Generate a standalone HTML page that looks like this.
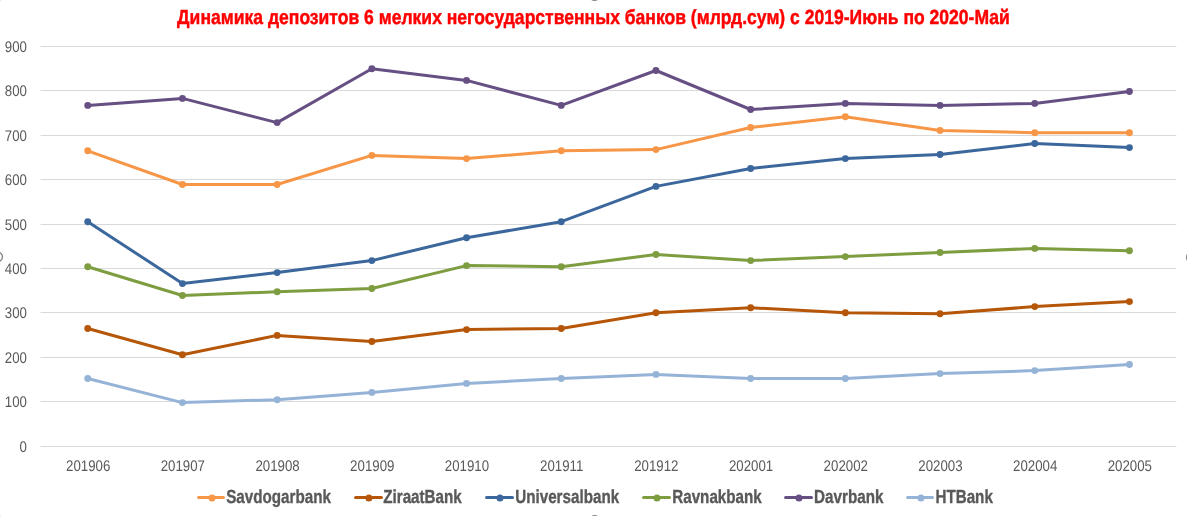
<!DOCTYPE html>
<html lang="ru"><head><meta charset="utf-8"><title>Chart</title>
<style>html,body{margin:0;padding:0;background:#fff;overflow:hidden}svg{display:block;will-change:transform}text{font-family:"Liberation Sans",sans-serif;text-rendering:geometricPrecision}</style></head><body>
<svg width="1187" height="516" viewBox="0 0 1187 516">
<rect width="1187" height="516" fill="#fff"/>
<circle cx="594.55" cy="-4.4" r="4.85" fill="#fff" stroke="#858585" stroke-width="1.3"/>
<circle cx="594.6" cy="520.4" r="4.85" fill="#fff" stroke="#858585" stroke-width="1.3"/>
<circle cx="-2.4" cy="256.9" r="4.85" fill="#fff" stroke="#858585" stroke-width="1.3"/>
<circle cx="1191.4" cy="257.4" r="4.85" fill="#fff" stroke="#858585" stroke-width="1.3"/>
<circle cx="-2.4" cy="-4.4" r="4.85" fill="#fff" stroke="#858585" stroke-width="1.3"/>
<circle cx="-2.4" cy="520.4" r="4.85" fill="#fff" stroke="#858585" stroke-width="1.3"/>
<g fill="#D9D9D9">
<rect x="40.6" y="46" width="1135.8" height="1"/>
<rect x="40.6" y="90" width="1135.8" height="1"/>
<rect x="40.6" y="135" width="1135.8" height="1"/>
<rect x="40.6" y="179" width="1135.8" height="1"/>
<rect x="40.6" y="224" width="1135.8" height="1"/>
<rect x="40.6" y="268" width="1135.8" height="1"/>
<rect x="40.6" y="312" width="1135.8" height="1"/>
<rect x="40.6" y="357" width="1135.8" height="1"/>
<rect x="40.6" y="401" width="1135.8" height="1"/>
<rect x="40.6" y="446" width="1135.8" height="1"/>
</g>
<g fill="#595959" font-size="15.4" text-anchor="end">
<text transform="translate(26.9 51.85) scale(0.862 1)">900</text>
<text transform="translate(26.9 96.28) scale(0.862 1)">800</text>
<text transform="translate(26.9 140.71) scale(0.862 1)">700</text>
<text transform="translate(26.9 185.14) scale(0.862 1)">600</text>
<text transform="translate(26.9 229.57) scale(0.862 1)">500</text>
<text transform="translate(26.9 274.00) scale(0.862 1)">400</text>
<text transform="translate(26.9 318.43) scale(0.862 1)">300</text>
<text transform="translate(26.9 362.86) scale(0.862 1)">200</text>
<text transform="translate(26.9 407.29) scale(0.862 1)">100</text>
<text transform="translate(26.9 451.72) scale(0.862 1)">0</text>
</g>
<g fill="#595959" font-size="15.4" text-anchor="middle">
<text transform="translate(88.15 470.9) scale(0.862 1)">201906</text>
<text transform="translate(182.85 470.9) scale(0.862 1)">201907</text>
<text transform="translate(277.55 470.9) scale(0.862 1)">201908</text>
<text transform="translate(372.25 470.9) scale(0.862 1)">201909</text>
<text transform="translate(466.95 470.9) scale(0.862 1)">201910</text>
<text transform="translate(561.65 470.9) scale(0.862 1)">201911</text>
<text transform="translate(656.35 470.9) scale(0.862 1)">201912</text>
<text transform="translate(751.05 470.9) scale(0.862 1)">202001</text>
<text transform="translate(845.75 470.9) scale(0.862 1)">202002</text>
<text transform="translate(940.45 470.9) scale(0.862 1)">202003</text>
<text transform="translate(1035.15 470.9) scale(0.862 1)">202004</text>
<text transform="translate(1129.85 470.9) scale(0.862 1)">202005</text>
</g>
<polyline points="87.75,150.80 182.45,184.50 277.15,184.50 371.85,155.40 466.55,158.60 561.25,150.80 655.95,149.60 750.65,127.50 845.35,116.70 940.05,130.40 1034.75,132.70 1129.45,132.70" fill="none" stroke="#F79646" stroke-width="3.0" stroke-linecap="round" stroke-linejoin="round"/>
<g fill="#F79646"><circle cx="87.75" cy="150.80" r="3.45"/><circle cx="182.45" cy="184.50" r="3.45"/><circle cx="277.15" cy="184.50" r="3.45"/><circle cx="371.85" cy="155.40" r="3.45"/><circle cx="466.55" cy="158.60" r="3.45"/><circle cx="561.25" cy="150.80" r="3.45"/><circle cx="655.95" cy="149.60" r="3.45"/><circle cx="750.65" cy="127.50" r="3.45"/><circle cx="845.35" cy="116.70" r="3.45"/><circle cx="940.05" cy="130.40" r="3.45"/><circle cx="1034.75" cy="132.70" r="3.45"/><circle cx="1129.45" cy="132.70" r="3.45"/></g>
<polyline points="87.75,328.50 182.45,354.70 277.15,335.40 371.85,341.50 466.55,329.60 561.25,328.50 655.95,312.80 750.65,307.70 845.35,312.70 940.05,313.80 1034.75,306.60 1129.45,301.60" fill="none" stroke="#B65608" stroke-width="3.0" stroke-linecap="round" stroke-linejoin="round"/>
<g fill="#B65608"><circle cx="87.75" cy="328.50" r="3.45"/><circle cx="182.45" cy="354.70" r="3.45"/><circle cx="277.15" cy="335.40" r="3.45"/><circle cx="371.85" cy="341.50" r="3.45"/><circle cx="466.55" cy="329.60" r="3.45"/><circle cx="561.25" cy="328.50" r="3.45"/><circle cx="655.95" cy="312.80" r="3.45"/><circle cx="750.65" cy="307.70" r="3.45"/><circle cx="845.35" cy="312.70" r="3.45"/><circle cx="940.05" cy="313.80" r="3.45"/><circle cx="1034.75" cy="306.60" r="3.45"/><circle cx="1129.45" cy="301.60" r="3.45"/></g>
<polyline points="87.75,221.70 182.45,283.60 277.15,272.60 371.85,260.60 466.55,237.70 561.25,221.70 655.95,186.40 750.65,168.50 845.35,158.60 940.05,154.50 1034.75,143.50 1129.45,147.60" fill="none" stroke="#3B679C" stroke-width="3.0" stroke-linecap="round" stroke-linejoin="round"/>
<g fill="#3B679C"><circle cx="87.75" cy="221.70" r="3.45"/><circle cx="182.45" cy="283.60" r="3.45"/><circle cx="277.15" cy="272.60" r="3.45"/><circle cx="371.85" cy="260.60" r="3.45"/><circle cx="466.55" cy="237.70" r="3.45"/><circle cx="561.25" cy="221.70" r="3.45"/><circle cx="655.95" cy="186.40" r="3.45"/><circle cx="750.65" cy="168.50" r="3.45"/><circle cx="845.35" cy="158.60" r="3.45"/><circle cx="940.05" cy="154.50" r="3.45"/><circle cx="1034.75" cy="143.50" r="3.45"/><circle cx="1129.45" cy="147.60" r="3.45"/></g>
<polyline points="87.75,266.70 182.45,295.50 277.15,291.70 371.85,288.50 466.55,265.60 561.25,266.70 655.95,254.50 750.65,260.60 845.35,256.60 940.05,252.50 1034.75,248.40 1129.45,250.80" fill="none" stroke="#7E9C40" stroke-width="3.0" stroke-linecap="round" stroke-linejoin="round"/>
<g fill="#7E9C40"><circle cx="87.75" cy="266.70" r="3.45"/><circle cx="182.45" cy="295.50" r="3.45"/><circle cx="277.15" cy="291.70" r="3.45"/><circle cx="371.85" cy="288.50" r="3.45"/><circle cx="466.55" cy="265.60" r="3.45"/><circle cx="561.25" cy="266.70" r="3.45"/><circle cx="655.95" cy="254.50" r="3.45"/><circle cx="750.65" cy="260.60" r="3.45"/><circle cx="845.35" cy="256.60" r="3.45"/><circle cx="940.05" cy="252.50" r="3.45"/><circle cx="1034.75" cy="248.40" r="3.45"/><circle cx="1129.45" cy="250.80" r="3.45"/></g>
<polyline points="87.75,105.40 182.45,98.40 277.15,122.60 371.85,68.80 466.55,80.40 561.25,105.40 655.95,70.50 750.65,109.50 845.35,103.40 940.05,105.40 1034.75,103.40 1129.45,91.50" fill="none" stroke="#664F83" stroke-width="3.0" stroke-linecap="round" stroke-linejoin="round"/>
<g fill="#664F83"><circle cx="87.75" cy="105.40" r="3.45"/><circle cx="182.45" cy="98.40" r="3.45"/><circle cx="277.15" cy="122.60" r="3.45"/><circle cx="371.85" cy="68.80" r="3.45"/><circle cx="466.55" cy="80.40" r="3.45"/><circle cx="561.25" cy="105.40" r="3.45"/><circle cx="655.95" cy="70.50" r="3.45"/><circle cx="750.65" cy="109.50" r="3.45"/><circle cx="845.35" cy="103.40" r="3.45"/><circle cx="940.05" cy="105.40" r="3.45"/><circle cx="1034.75" cy="103.40" r="3.45"/><circle cx="1129.45" cy="91.50" r="3.45"/></g>
<polyline points="87.75,378.50 182.45,402.60 277.15,399.70 371.85,392.40 466.55,383.40 561.25,378.50 655.95,374.40 750.65,378.50 845.35,378.50 940.05,373.60 1034.75,370.60 1129.45,364.50" fill="none" stroke="#95B3D7" stroke-width="3.0" stroke-linecap="round" stroke-linejoin="round"/>
<g fill="#95B3D7"><circle cx="87.75" cy="378.50" r="3.45"/><circle cx="182.45" cy="402.60" r="3.45"/><circle cx="277.15" cy="399.70" r="3.45"/><circle cx="371.85" cy="392.40" r="3.45"/><circle cx="466.55" cy="383.40" r="3.45"/><circle cx="561.25" cy="378.50" r="3.45"/><circle cx="655.95" cy="374.40" r="3.45"/><circle cx="750.65" cy="378.50" r="3.45"/><circle cx="845.35" cy="378.50" r="3.45"/><circle cx="940.05" cy="373.60" r="3.45"/><circle cx="1034.75" cy="370.60" r="3.45"/><circle cx="1129.45" cy="364.50" r="3.45"/></g>
<text transform="translate(593.45 23.55) scale(0.8601 1)" text-anchor="middle" font-size="20.4" font-weight="bold" fill="#FF0000" stroke="#FF0000" stroke-width="0.45">Динамика депозитов 6 мелких негосударственных банков (млрд.сум) с 2019-Июнь по 2020-Май</text>
<line x1="198.54" y1="497.5" x2="223.45" y2="497.5" stroke="#F79646" stroke-width="3.0" stroke-linecap="round"/>
<circle cx="211.96" cy="497.9" r="3.5" fill="#F79646"/>
<text transform="translate(226.20 502.75) scale(0.805 1)" font-size="18.9" font-weight="bold" fill="#595959" stroke="#595959" stroke-width="0.35">Savdogarbank</text>
<line x1="355.57" y1="497.5" x2="381.45" y2="497.5" stroke="#B65608" stroke-width="3.0" stroke-linecap="round"/>
<circle cx="368.90" cy="497.9" r="3.5" fill="#B65608"/>
<text transform="translate(383.20 502.75) scale(0.805 1)" font-size="18.9" font-weight="bold" fill="#595959" stroke="#595959" stroke-width="0.35">ZiraatBank</text>
<line x1="486.54" y1="497.5" x2="512.53" y2="497.5" stroke="#3B679C" stroke-width="3.0" stroke-linecap="round"/>
<circle cx="499.96" cy="497.9" r="3.5" fill="#3B679C"/>
<text transform="translate(515.20 502.75) scale(0.805 1)" font-size="18.9" font-weight="bold" fill="#595959" stroke="#595959" stroke-width="0.35">Universalbank</text>
<line x1="643.54" y1="497.5" x2="669.53" y2="497.5" stroke="#7E9C40" stroke-width="3.0" stroke-linecap="round"/>
<circle cx="656.96" cy="497.9" r="3.5" fill="#7E9C40"/>
<text transform="translate(672.20 502.75) scale(0.805 1)" font-size="18.9" font-weight="bold" fill="#595959" stroke="#595959" stroke-width="0.35">Ravnakbank</text>
<line x1="785.54" y1="497.5" x2="811.53" y2="497.5" stroke="#664F83" stroke-width="3.0" stroke-linecap="round"/>
<circle cx="798.96" cy="497.9" r="3.5" fill="#664F83"/>
<text transform="translate(814.10 502.75) scale(0.805 1)" font-size="18.9" font-weight="bold" fill="#595959" stroke="#595959" stroke-width="0.35">Davrbank</text>
<line x1="907.59" y1="497.5" x2="932.53" y2="497.5" stroke="#95B3D7" stroke-width="3.0" stroke-linecap="round"/>
<circle cx="920.93" cy="497.9" r="3.5" fill="#95B3D7"/>
<text transform="translate(935.40 502.75) scale(0.805 1)" font-size="18.9" font-weight="bold" fill="#595959" stroke="#595959" stroke-width="0.35">HTBank</text>
</svg></body></html>
